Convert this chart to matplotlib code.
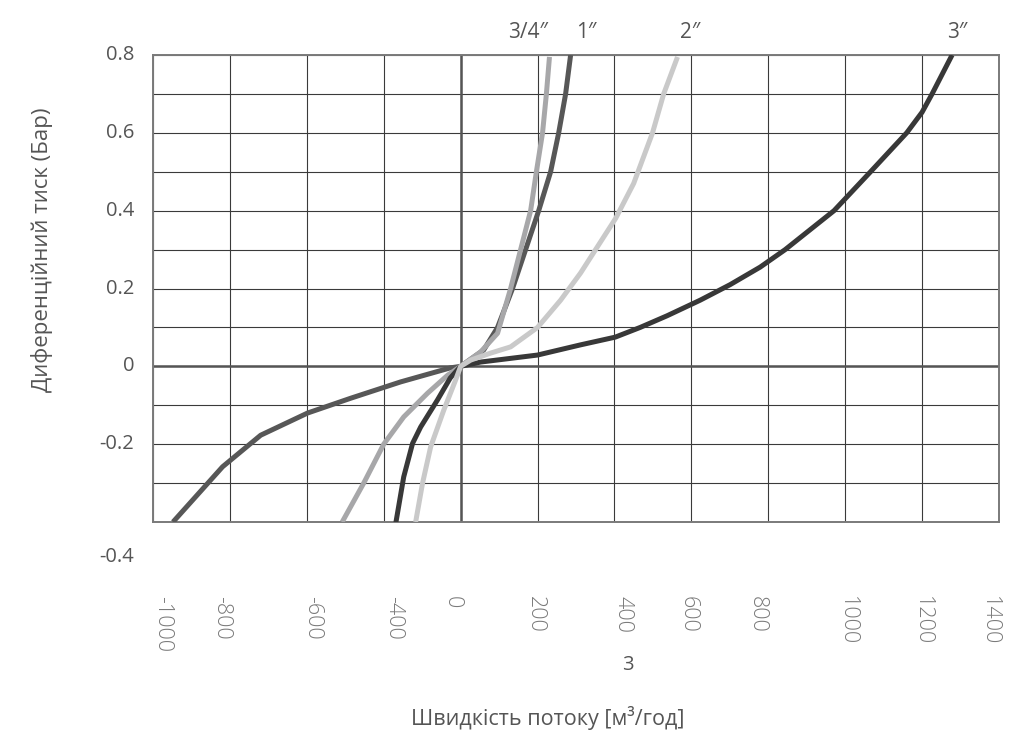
import numpy as np
import matplotlib.pyplot as plt
import matplotlib.transforms as mtransforms

plt.rcParams['font.family'] = ['Open Sans', 'DejaVu Sans']

# curve data: flow [m3/h] vs differential pressure [bar]
x_3in = [-169, -148, -125, -104, -60, -27, 0, 52, 200, 311, 402, 467, 537, 623, 701, 779, 844, 971, 1066, 1160, 1200, 1226, 1278]
y_3in = [-0.405, -0.284, -0.198, -0.156, -0.086, -0.03, 0, 0.011, 0.029, 0.055, 0.075, 0.10, 0.13, 0.17, 0.21, 0.255, 0.30, 0.40, 0.50, 0.60, 0.653, 0.70, 0.80]

x_1in = [-748, -619, -520, -398, -286, -156, -27, 0, 60, 96, 135, 169, 203, 234, 255, 273, 286]
y_1in = [-0.40, -0.258, -0.177, -0.12, -0.082, -0.04, -0.004, 0, 0.042, 0.10, 0.20, 0.30, 0.40, 0.50, 0.60, 0.70, 0.80]

x_2in = [-117, -99, -78, -44, -13, 0, 26, 78, 130, 200, 260, 312, 338, 403, 450, 499, 528, 564]
y_2in = [-0.40, -0.30, -0.207, -0.113, -0.035, 0, 0.016, 0.034, 0.05, 0.10, 0.17, 0.24, 0.28, 0.38, 0.47, 0.60, 0.70, 0.795]

x_34in = [-308, -252, -200, -148, -86, -34, 0, 52, 96, 130, 156, 182, 197, 213, 223, 231]
y_34in = [-0.40, -0.30, -0.20, -0.13, -0.069, -0.023, 0, 0.037, 0.085, 0.20, 0.30, 0.40, 0.50, 0.60, 0.70, 0.795]

curve_names = ['3/4\u2033', '1\u2033', '2\u2033', '3\u2033']
curve_name_x = [175, 327, 596, 1291]

# tick labels (positions as they sit in the source picture)
xtick_labels = ['-1000', '-800', '-600', '-400', '0', '200', '400', '600', '800', '1000', '1200', '1400']
xtick_pos = [-774, -623, -384, -174, -21, 195, 423, 592, 771, 1005, 1202, 1376]
ytick_labels = ['0.8', '0.6', '0.4', '0.2', '0', '-0.2', '-0.4']
ytick_pos = [0.8, 0.6, 0.4, 0.2, 0, -0.2, -0.49]

fig = plt.figure(figsize=(10.24, 7.43), dpi=100)
ax = fig.add_axes([153 / 1024, 1 - 522 / 743, 846 / 1024, 467 / 743])
ax.set_xlim(-800, 1400)
ax.set_ylim(-0.4, 0.8)

for gx in np.arange(-800, 1401, 200):
    ax.axvline(gx, color='#3a3a3a', lw=0.8, zorder=1)
for gy in np.arange(-0.4, 0.81, 0.1):
    ax.axhline(gy, color='#3a3a3a', lw=0.8, zorder=1)
ax.axvline(0, color='#555555', lw=1.8, zorder=1)
ax.axhline(0, color='#555555', lw=1.8, zorder=1)

style = dict(lw=3.6, solid_capstyle='butt', solid_joinstyle='round')
ax.plot(x_1in, y_1in, color='#575757', zorder=3, **style)
ax.plot(x_34in, y_34in, color='#a7a7a9', zorder=3, **style)
ax.plot(x_3in, y_3in, color='#383838', zorder=4, **style)
ax.plot(x_2in, y_2in, color='#c9c9c9', zorder=5, **style)

ax.set_xticks([])
ax.set_yticks([])
for s in ax.spines.values():
    s.set_color('#7a7a7a')
    s.set_linewidth(1.4)

# x tick labels, rotated
trx = mtransforms.blended_transform_factory(ax.transData, fig.transFigure)
for lab, p in zip(xtick_labels, xtick_pos):
    ax.text(p, 1 - 596 / 743, lab, transform=trx, rotation=-90, ha='center', va='top',
            fontsize=15.5, color='#7a7a7a', fontweight='light', clip_on=False)

# y tick labels
tr_y = mtransforms.blended_transform_factory(fig.transFigure, ax.transData)
for lab, p in zip(ytick_labels, ytick_pos):
    ax.text(134 / 1024, p, lab, transform=tr_y, ha='right', va='center',
            fontsize=14.5, color='#555555', clip_on=False)

# curve names above the plot
for lab, p in zip(curve_names, curve_name_x):
    ax.text(p, 1 - 33 / 743, lab, transform=trx, ha='center', va='center',
            fontsize=15, color='#555555', clip_on=False)

fig.text(628 / 1024, 1 - 665 / 743, '3', ha='center', va='center', fontsize=14.5, color='#555555')
fig.text(548 / 1024, 1 - 718 / 743, 'Швидкість потоку [м³/год]', ha='center', va='center',
         fontsize=15.5, color='#555555')
fig.text(42 / 1024, 1 - 250 / 743, 'Диференційний тиск (Бар)', rotation=90, ha='center', va='center',
         fontsize=16, color='#555555')

fig.savefig('out.png', dpi=100)
